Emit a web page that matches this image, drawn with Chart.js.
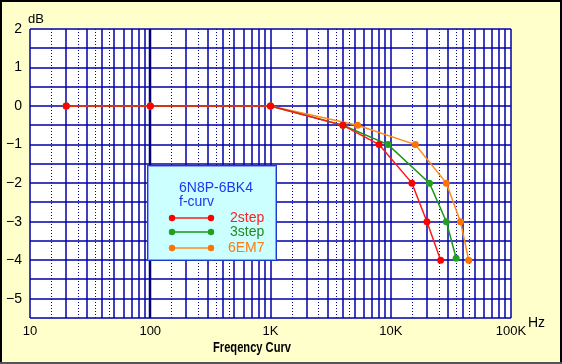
<!DOCTYPE html>
<html>
<head>
<meta charset="utf-8">
<script src="https://cdn.jsdelivr.net/npm/chart.js@4/dist/chart.umd.min.js"></script>
<style>
html,body{margin:0;padding:0;background:#fff;}
#wrap{width:562px;height:364px;position:relative;}
</style>
</head>
<body>
<div id="wrap"><canvas id="c" width="562" height="364"></canvas></div>
<script>
// ---- data ----
const seriesNames = ['2step', '3step', '6EM7'];
const freq2step = [20, 100, 1000, 4000, 8000, 15000, 20000, 26000];
const db2step   = [0, 0, 0, -0.5, -1, -2, -3, -4];
const freq3step = [20, 100, 1000, 4000, 9500, 21000, 29000, 35000];
const db3step   = [0, 0, 0, -0.5, -1, -2, -3, -3.95];
const freq6EM7  = [20, 100, 1000, 5300, 16000, 29000, 38000, 44500];
const db6EM7    = [0, 0, 0, -0.5, -1, -2, -3, -4];
const xTickValues = [10, 100, 1000, 10000, 100000];
const xTickLabels = ['10', '100', '1K', '10K', '100K'];
const yTickValues = [-5, -4, -3, -2, -1, 0, 1, 2];
const chartTitle = 'Freqency Curv';
const yUnit = 'dB';
const xUnit = 'Hz';
const legendTitle1 = '6N8P-6BK4';
const legendTitle2 = 'f-curv';

const pts = (xs, ys) => xs.map((x, i) => ({x: x, y: ys[i]}));
const lineColors  = ['#ff1a1a', '#1a961a', '#ff8c1a'];
const pointColors = ['#ff0000', '#22a022', '#ff7300'];
const textColors  = ['#ff2020', '#208a20', '#ff7a10'];

const GRID = '#0000a8';
const FONT = '"Liberation Sans", Arial, sans-serif';

const framePlugin = {
  id: 'frame',
  beforeDraw(chart) {
    const ctx = chart.ctx, a = chart.chartArea;
    ctx.save();
    ctx.fillStyle = '#ffffcc';
    ctx.fillRect(0, 0, chart.width, chart.height);
    ctx.fillStyle = '#ffffff';
    ctx.fillRect(a.left, a.top, a.right - a.left, a.bottom - a.top);
    ctx.restore();
  },
  beforeDatasetsDraw(chart) {
    const ctx = chart.ctx, a = chart.chartArea;
    const xs = chart.scales.x, ys = chart.scales.y;
    ctx.save();
    ctx.beginPath();
    ctx.rect(a.left - 1, a.top - 1, a.right - a.left + 2, a.bottom - a.top + 2);
    ctx.clip();
    ctx.strokeStyle = GRID;
    ctx.lineWidth = 1.5;
    // horizontal lines every 0.5 dB
    for (let v = ys.min; v <= ys.max + 1e-9; v += 0.5) {
      const y = Math.round(ys.getPixelForValue(v));
      ctx.beginPath(); ctx.moveTo(a.left, y); ctx.lineTo(a.right, y); ctx.stroke();
    }
    // vertical lines
    const solid = [1, 2, 3, 4, 5, 6, 7, 8, 9];
    const dotted = [1.5, 2.5, 3.5, 4.5];
    for (let d = 10; d <= 100000; d *= 10) {
      for (const m of solid) {
        const v = d * m;
        if (v > 100000) continue;
        const x = Math.round(xs.getPixelForValue(v));
        ctx.setLineDash([]);
        if (v === 100) {
          ctx.strokeStyle = '#00007a';
          ctx.lineWidth = 2.5;
          ctx.beginPath(); ctx.moveTo(x, a.top); ctx.lineTo(x, a.bottom); ctx.stroke();
          ctx.strokeStyle = GRID;
          ctx.lineWidth = 1.5;
        } else {
          ctx.beginPath(); ctx.moveTo(x, a.top); ctx.lineTo(x, a.bottom); ctx.stroke();
        }
      }
      if (d < 100000) {
        ctx.setLineDash([1, 2]);
        ctx.lineWidth = 1;
        for (const m of dotted) {
          const x = Math.round(xs.getPixelForValue(d * m)) + 0.5;
          ctx.beginPath(); ctx.moveTo(x, a.top); ctx.lineTo(x, a.bottom); ctx.stroke();
        }
        ctx.setLineDash([]);
        ctx.lineWidth = 1.5;
      }
    }
    ctx.restore();
  },
  afterDraw(chart) {
    const ctx = chart.ctx;
    ctx.save();
    // texts
    ctx.fillStyle = '#000';
    ctx.font = '13px ' + FONT;
    ctx.textBaseline = 'middle';
    ctx.textAlign = 'left';
    ctx.fillText(yUnit, 28, 19);
    ctx.font = '14px ' + FONT;
    ctx.fillText(xUnit, 528, 323);
    // title, condensed horizontally to match the narrow original face
    ctx.font = 'bold 14px ' + FONT;
    ctx.textAlign = 'center';
    const tw = ctx.measureText(chartTitle).width;
    const sx = Math.min(1, 78 / tw);
    ctx.save();
    ctx.translate(252, 348);
    ctx.scale(sx, 1);
    ctx.fillText(chartTitle, 0, 0);
    ctx.restore();

    // legend box
    const L = 147, T = 165, R = 277, B = 261;
    ctx.fillStyle = '#ccffff';
    ctx.fillRect(L, T, R - L, B - T);
    ctx.strokeStyle = '#1a3acc';
    ctx.lineWidth = 1;
    ctx.strokeRect(L + 0.5, T + 0.5, R - L - 1, B - T - 1);
    ctx.strokeStyle = '#8aa0ff';
    ctx.strokeRect(L + 1.5, T + 1.5, R - L - 3, B - T - 3);
    ctx.font = '14px ' + FONT;
    ctx.textAlign = 'left';
    ctx.fillStyle = '#1a3af0';
    ctx.fillText(legendTitle1, 179, 188);
    ctx.fillText(legendTitle2, 179, 202);
    const rows = [218, 232, 248];
    chart.data.datasets.forEach((ds, i) => {
      const y = rows[i];
      ctx.strokeStyle = lineColors[i];
      ctx.lineWidth = 1.5;
      ctx.beginPath(); ctx.moveTo(172, y); ctx.lineTo(211, y); ctx.stroke();
      ctx.fillStyle = pointColors[i];
      [172, 211].forEach(px => { ctx.beginPath(); ctx.arc(px, y, 3.2, 0, Math.PI * 2); ctx.fill(); });
      ctx.fillStyle = textColors[i];
      ctx.fillText(ds.label, i === 2 ? 228 : 230, y);
    });

    // outer frame
    ctx.strokeStyle = '#000';
    ctx.lineWidth = 2;
    ctx.strokeRect(1, 1, chart.width - 2, chart.height - 2);
    ctx.strokeStyle = '#555';
    ctx.beginPath(); ctx.moveTo(0, chart.height - 1); ctx.lineTo(chart.width, chart.height - 1); ctx.stroke();
    ctx.restore();
  }
};

const datasets = [
  {label: seriesNames[0], data: pts(freq2step, db2step)},
  {label: seriesNames[1], data: pts(freq3step, db3step)},
  {label: seriesNames[2], data: pts(freq6EM7, db6EM7)}
].map((d, i) => Object.assign(d, {
  borderColor: lineColors[i],
  backgroundColor: pointColors[i],
  pointBackgroundColor: pointColors[i],
  pointBorderColor: pointColors[i],
  borderWidth: 1.5,
  pointRadius: 3.5,
  pointBorderWidth: 0,
  tension: 0,
  fill: false
}));

new Chart(document.getElementById('c'), {
  type: 'line',
  data: {datasets: datasets},
  plugins: [framePlugin],
  options: {
    responsive: false,
    animation: false,
    devicePixelRatio: 1,
    layout: {padding: {left: 0, top: 29, right: 51, bottom: 0}},
    plugins: {legend: {display: false}, tooltip: {enabled: false}, title: {display: false}},
    scales: {
      x: {
        type: 'logarithmic',
        min: 10, max: 100000,
        afterBuildTicks(s) { s.ticks = xTickValues.map(v => ({value: v})); },
        afterFit(s) { s.height = 46; },
        grid: {display: false, drawTicks: false},
        border: {display: false},
        ticks: {
          autoSkip: false, maxRotation: 0, padding: 6,
          color: '#000',
          font: {family: FONT, size: 13},
          callback(v) { const i = xTickValues.indexOf(v); return i >= 0 ? xTickLabels[i] : ''; }
        }
      },
      y: {
        type: 'linear',
        min: -5.5, max: 2,
        afterBuildTicks(s) { s.ticks = yTickValues.map(v => ({value: v})); },
        afterFit(s) { s.width = 30; },
        grid: {display: false, drawTicks: false},
        border: {display: false},
        ticks: {
          padding: 8,
          color: '#000',
          font: {family: FONT, size: 14},
          callback(v) { return v < 0 ? '\u2212' + Math.abs(v) : String(v); }
        }
      }
    }
  }
});
</script>
</body>
</html>
